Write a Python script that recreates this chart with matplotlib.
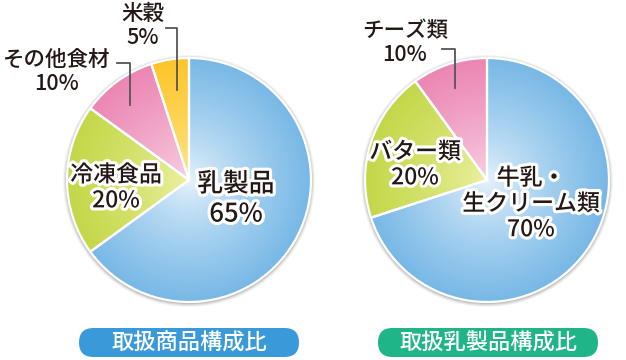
import matplotlib.pyplot as plt
import numpy as np
from matplotlib.colors import to_rgb
from matplotlib.patches import Circle, FancyBboxPatch
import matplotlib.patheffects as pe

plt.rcParams['font.family'] = ['Noto Sans CJK JP', 'DejaVu Sans']
plt.rcParams['font.weight'] = 'medium'

# data
goods_labels = ['乳製品', '冷凍食品', 'その他食材', '米穀']
goods_values = [65, 20, 10, 5]
dairy_labels = ['牛乳・\n生クリーム類', 'バター類', 'チーズ類']
dairy_values = [70, 20, 10]
titles = ['取扱商品構成比', '取扱乳製品構成比']

# (edge colour, centre colour) per slice
goods_colors = [('#78b8e6', '#eaf5fd'), ('#c4d748', '#eef2a6'),
                ('#ec86b3', '#f9d6e7'), ('#fdc52a', '#fdeb96')]
dairy_colors = [('#78b8e6', '#eaf5fd'), ('#c4d748', '#eef2a6'),
                ('#ec86b3', '#f9d6e7')]

W, H = 626, 360
fig = plt.figure(figsize=(W / 100, H / 100), dpi=100)
ax = fig.add_axes([0, 0, 1, 1])
TXT = '#231815'
halo = [pe.withStroke(linewidth=4.5, foreground='white')]


def Y(y):
    return H - y


def draw_pie(values, colors, cx, cy, r):
    # soft shadow
    for k, a in [(4, 0.04), (3, 0.06), (2, 0.08), (1, 0.1)]:
        ax.add_patch(Circle((cx, Y(cy) - 1), r + k, color='black', alpha=a,
                            lw=0, zorder=1))
    wedges, _ = ax.pie(values, startangle=90, counterclock=False,
                       center=(cx, Y(cy)), radius=r,
                       colors=['none'] * len(values),
                       wedgeprops=dict(edgecolor='white', linewidth=1.6),
                       frame=True)
    n = 300
    xs = np.linspace(cx - r, cx + r, n)
    ys = np.linspace(Y(cy) - r, Y(cy) + r, n)
    gx, gy = np.meshgrid(xs, ys)
    d = np.clip(np.hypot(gx - cx, gy - Y(cy)) / r, 0, 1) ** 0.75
    for w, (edge, centre) in zip(wedges, colors):
        c1 = np.array(to_rgb(edge))
        c0 = np.array(to_rgb(centre))
        img = c0 + (c1 - c0) * d[..., None]
        im = ax.imshow(img, extent=(cx - r, cx + r, Y(cy) - r, Y(cy) + r),
                       origin='lower', zorder=2, interpolation='bilinear')
        im.set_clip_path(w)
        w.set_zorder(3)


draw_pie(goods_values, goods_colors, 189, 180, 122)
draw_pie(dairy_values, dairy_colors, 487, 180, 122)


def label(x, y, text, size):
    ax.text(x, Y(y), text, fontsize=size, color=TXT, ha='center',
            va='center', linespacing=1.15, path_effects=halo, zorder=6)


# inner labels
label(236, 199, f'{goods_labels[0]}\n{goods_values[0]}%', 18.5)
label(116, 188, f'{goods_labels[1]}\n{goods_values[1]}%', 16.5)
label(415, 165, f'{dairy_labels[1]}\n{dairy_values[1]}%', 16.5)
label(531, 204, f'{dairy_labels[0]}\n{dairy_values[0]}%', 16.5)


# outer labels with leader lines
def outer(x, y, text, size):
    ax.text(x, Y(y), text, fontsize=size, color=TXT, ha='center',
            va='center', linespacing=1.1, zorder=6)


outer(57, 72, f'{goods_labels[2]}\n{goods_values[2]}%', 15.5)
outer(143, 26, f'{goods_labels[3]}\n{goods_values[3]}%', 15.5)
outer(405, 43, f'{dairy_labels[2]}\n{dairy_values[2]}%', 15.5)

lc = '#555555'
for pts in [[(117, 63), (130, 63), (130, 105)],
            [(166, 28), (177, 28), (177, 90)],
            [(442, 49), (455, 49), (455, 88)]]:
    px, py = zip(*pts)
    ax.plot(px, [Y(v) for v in py], color=lc, lw=1.3, zorder=5)

# title pills
for (x0, x1), col, t in zip([(79, 299), (378, 598)],
                            ['#3a9ad9', '#20b489'], titles):
    ax.add_patch(FancyBboxPatch((x0, Y(357)), x1 - x0, 29,
                                boxstyle='round,pad=0,rounding_size=14.5',
                                fc=col, ec='none', zorder=4))
    ax.text((x0 + x1) / 2, Y(343), t, fontsize=16, color='white',
            ha='center', va='center', zorder=6)

ax.set_xlim(0, W)
ax.set_ylim(0, H)
ax.set_aspect('equal')
ax.axis('off')
fig.savefig('out.png', dpi=100)
